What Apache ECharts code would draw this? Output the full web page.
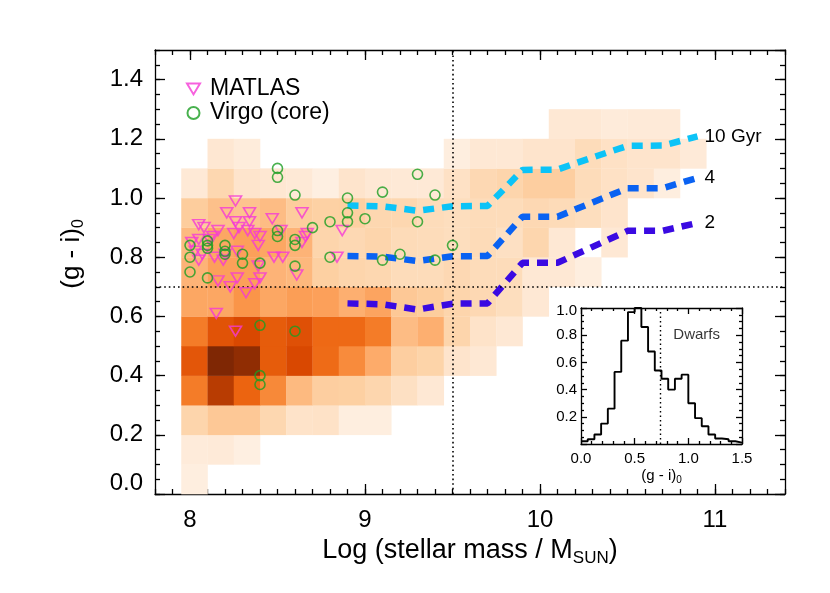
<!DOCTYPE html>
<html><head><meta charset="utf-8">
<script src="https://cdn.jsdelivr.net/npm/echarts@6/dist/echarts.min.js"></script>
<style>html,body{margin:0;padding:0;background:#fff}#c{width:830px;height:593px}</style>
</head><body><div id="c"></div>
<script>
// ---------- data ----------
const massTicks = [8, 9, 10, 11];

// 2D histogram of the parent sample: bins of 0.15 dex in mass (from 7.95) and 0.1 mag in colour (from 0.0)
const heatMassStart = 7.95;
const heatMassStep = 0.15;
const heatColorStep = 0.1;
// density level per bin, row j = colour bin, column k = mass bin (null = empty)
const heatLevels = [
  [1.2, null, null, null, null, null, null, null, null, null, null, null, null, null, null, null, null, null, null, null],
  [1.5, 1.6, 1.1, null, null, null, null, null, null, null, null, null, null, null, null, null, null, null, null, null],
  [3.6, 4.5, 4.5, 3.4, 2.3, 2.4, 1.2, 1.2, null, null, null, null, null, null, null, null, null, null, null, null],
  [8, 11, 9, 7.5, 5.3, 4.1, 4, 3.5, 2.6, 1.8, null, null, null, null, null, null, null, null, null, null],
  [9.5, 12, 11.7, 9.3, 10, 8.7, 7.4, 6, 4.1, 3.7, 2.2, 1.8, null, null, null, null, null, null, null, null],
  [8, 9.6, 10, 9.3, 9.7, 8.8, 8.8, 8, 5.2, 5.8, 3.6, 2.3, 1.8, null, null, null, null, null, null, null],
  [6.2, 6.2, 7, 6.2, 6.6, 6.5, 5.8, 6.3, 4.5, 4.2, 3.6, 3.3, 2.8, 1.8, null, null, null, null, null, null],
  [5.6, 6.5, 6.5, 5.6, 5.4, 4, 3.6, 3.4, 3, 3, 3.3, 3, 3, 1.8, 1.8, 1.2, null, null, null, null],
  [5.3, 6.2, 6.5, 6.2, 5.6, 3.6, 3.3, 3.6, 3.1, 3, 2.8, 3.1, 2.6, 3.5, 1.8, null, 1.8, null, null, null],
  [4.2, 5, 4.8, 5.2, 4.2, 3.9, 4, 3.4, 3.4, 3, 2.8, 3, 3, 3.3, 3.1, 2.8, 2.2, null, null, null],
  [1.7, 3.4, 2.2, 1.9, 1.7, 1.1, 2.2, 1.8, 1.7, 1.7, 2.5, 3.3, 3.6, 4.1, 4.1, 3, 2.5, 2.2, 1.2, null],
  [null, 1.9, 1.4, null, null, null, null, null, null, null, 1.2, 1.8, 1.8, 2.2, 2.2, 3, 2.5, 2.2, 2.2, 1.6],
  [null, null, null, null, null, null, null, null, null, null, null, null, null, null, 1.8, 1.8, 1.5, 1.6, 1.6, null]
];
const heatColors = ['#fef0e3', '#fee6d0', '#fddcba', '#fdd0a2', '#fdc08a', '#fdab6a',
                    '#fa9549', '#f47c28', '#ec6410', '#d94801', '#b83c02', '#7f2704'];

// MATLAS dwarfs
const matlasMass = [8.26, 8.21, 8.34, 8.47, 8.26, 8.34, 8.05, 8.08, 8.16, 8.28, 8.33, 8.25, 8.37, 8.40, 8.52,
  8.05, 8.13, 8.01, 8.39, 8.11, 8.27, 8.03, 8.07, 8.20, 8.05, 8.14, 8.19, 8.48, 8.53, 8.39, 8.40, 8.16, 8.27,
  8.23, 8.37, 8.32, 8.15, 8.26, 8.64, 8.87, 8.67, 8.66, 8.64, 8.84, 8.61];
const matlasColor = [0.99, 0.95, 0.95, 0.93, 0.92, 0.92, 0.91, 0.90, 0.89, 0.90, 0.89, 0.88, 0.88, 0.87, 0.89,
  0.86, 0.87, 0.85, 0.84, 0.86, 0.82, 0.82, 0.81, 0.81, 0.79, 0.80, 0.79, 0.80, 0.80, 0.77, 0.73, 0.72, 0.73,
  0.70, 0.71, 0.68, 0.61, 0.55, 0.95, 0.89, 0.88, 0.87, 0.85, 0.80, 0.74];

// Virgo core dwarfs
const virgoMass = [8.5, 8.5, 8.6, 8.9, 8.9, 8.9, 8.8, 9.0, 9.1, 9.3, 9.4, 9.3, 8.7, 8.5, 8.5, 8.6, 8.6, 8.6,
  8.8, 9.1, 9.2, 9.4, 9.5, 8.0, 8.0, 8.0, 8.1, 8.1, 8.1, 8.1, 8.2, 8.2, 8.2, 8.3, 8.3, 8.4, 8.4, 8.6, 8.4, 8.4];
const virgoColor = [1.10, 1.07, 1.01, 1.00, 0.95, 0.92, 0.92, 0.93, 1.02, 1.08, 1.01, 0.92, 0.90, 0.89, 0.87,
  0.86, 0.84, 0.77, 0.80, 0.79, 0.81, 0.79, 0.84, 0.84, 0.80, 0.75, 0.73, 0.855, 0.84, 0.83, 0.84, 0.82, 0.81,
  0.81, 0.78, 0.78, 0.57, 0.55, 0.40, 0.37];

// model tracks (age)
const ageMass = [8.9, 9.1, 9.3, 9.5, 9.7, 9.9, 10.1, 10.3, 10.5, 10.7, 10.9];
const age10 = [0.975, 0.972, 0.957, 0.972, 0.973, 1.095, 1.096, 1.137, 1.176, 1.177, 1.208];
const age4 = [0.804, 0.802, 0.787, 0.803, 0.804, 0.937, 0.937, 0.985, 1.033, 1.033, 1.068];
const age2 = [0.644, 0.641, 0.623, 0.643, 0.644, 0.781, 0.781, 0.835, 0.889, 0.889, 0.916];

// reference cuts
const massCut = 9.5;
const colorCut = 0.7;
const insetCut = 0.74;

// inset histogram of dwarf colours
const histBinWidth = 0.0625;
const histValues = [0.02, 0.035, 0.07, 0.15, 0.26, 0.53, 0.76, 0.97, 1.0, 0.86, 0.68, 0.54,
  0.48, 0.40, 0.48, 0.51, 0.30, 0.19, 0.13, 0.07, 0.04, 0.035, 0.02, 0.01];

// ---------- build ----------
const FONT = 'Liberation Sans';
const heatData = [];
heatLevels.forEach((row, j) => row.forEach((v, k) => {
  if (v != null) heatData.push([heatMassStart + k * heatMassStep, j * heatColorStep, v]);
}));
const zip = (a, b) => a.map((v, i) => [v, b[i]]);
const histData = histValues.map((v, i) => [i * histBinWidth, v]);
histData.push([histValues.length * histBinWidth, histValues[histValues.length - 1]]);

const black = {color: '#000', width: 1.3};
function mainX(pos, labels, minor) {
  return {
    type: 'value', gridIndex: 0, position: pos, min: 7.8, max: 11.4,
    interval: minor ? 0.1 : undefined,
    axisLine: {show: !minor, onZero: false, lineStyle: black},
    axisTick: minor ? {show: true, inside: true, length: 5, lineStyle: black}
                    : {show: true, inside: true, length: 10, customValues: massTicks, lineStyle: black},
    axisLabel: labels ? {show: true, customValues: massTicks, fontSize: 24, color: '#000', margin: 14, fontFamily: FONT}
                      : {show: false},
    splitLine: {show: false}
  };
}
function mainY(pos, labels, minor) {
  return {
    type: 'value', gridIndex: 0, position: pos, min: 0, max: 1.5,
    interval: minor ? 0.05 : 0.2,
    axisLine: {show: !minor, onZero: false, lineStyle: black},
    axisTick: {show: true, inside: true, length: minor ? 5 : 10, lineStyle: black},
    axisLabel: labels ? {
      show: true, fontSize: 24, color: '#000', margin: 12, fontFamily: FONT, showMaxLabel: false,
      formatter: v => v === 0 ? '{z|0.0}' : v.toFixed(1),
      rich: {z: {fontSize: 24, fontFamily: FONT, color: '#000', padding: [0, 0, 22, 0]}}
    } : {show: false},
    splitLine: {show: false}
  };
}
function insetX(pos, labels) {
  return {
    type: 'value', gridIndex: 1, position: pos, min: 0, max: 1.5, interval: 0.5,
    axisLine: {show: true, onZero: false, lineStyle: black},
    axisTick: {show: true, inside: true, length: 6, lineStyle: black},
    minorTick: {show: true, splitNumber: 5, length: 3, lineStyle: black},
    axisLabel: labels ? {show: true, fontSize: 15, color: '#000', margin: 7, fontFamily: FONT,
      formatter: v => v.toFixed(1)} : {show: false},
    splitLine: {show: false}, minorSplitLine: {show: false}
  };
}
function insetY(pos, labels) {
  return {
    type: 'value', gridIndex: 1, position: pos, min: 0, max: 1.0, interval: 0.2,
    axisLine: {show: true, onZero: false, lineStyle: black},
    axisTick: {show: true, inside: true, length: 6, lineStyle: black},
    minorTick: {show: true, splitNumber: 4, length: 3, lineStyle: black},
    axisLabel: labels ? {show: true, fontSize: 15, color: '#000', margin: 4, fontFamily: FONT, showMinLabel: false,
      formatter: v => v === 1 ? '{t|1.0}' : v.toFixed(1),
      rich: {t: {fontSize: 15, fontFamily: FONT, color: '#000', padding: [5, 0, 0, 0]}}} : {show: false},
    splitLine: {show: false}, minorSplitLine: {show: false}
  };
}

const xAxes = [mainX('bottom', true, false), mainX('top', false, false), mainX('bottom', false, true), mainX('top', false, true),
  insetX('bottom', true), insetX('top', false)];
xAxes[0].name = 'Log (stellar mass / M{sub|SUN})';
xAxes[0].nameLocation = 'middle';
xAxes[0].nameGap = 40;
xAxes[0].nameTextStyle = {fontSize: 27, color: '#000', fontFamily: FONT,
  rich: {sub: {fontSize: 17, fontFamily: FONT, color: '#000', padding: [15, 0, 0, 0]}}};
xAxes[4].name = '(g - i){sub|0}';
xAxes[4].nameLocation = 'middle';
xAxes[4].nameGap = 22;
xAxes[4].nameTextStyle = {fontSize: 15, color: '#000', fontFamily: FONT,
  rich: {sub: {fontSize: 10, fontFamily: FONT, color: '#000', padding: [9, 0, 0, 0]}}};

const yAxes = [mainY('left', true, false), mainY('right', false, false), mainY('left', false, true), mainY('right', false, true),
  insetY('left', true), insetY('right', false)];
yAxes[0].name = '(g - i){sub|0}';
yAxes[0].nameLocation = 'middle';
yAxes[0].nameGap = 68;
yAxes[0].nameTextStyle = {fontSize: 26, color: '#000', fontFamily: FONT, padding: [0, 0, 0, 36],
  rich: {sub: {fontSize: 16, fontFamily: FONT, color: '#000', padding: [15, 0, 0, 0]}}};

function ageSeries(name, values, color) {
  return {
    type: 'line', name, xAxisIndex: 0, yAxisIndex: 0, data: zip(ageMass, values),
    symbol: 'none', z: 3, silent: true,
    lineStyle: {color, width: 6.5, type: [11, 8], cap: 'butt'},
    endLabel: {show: true, formatter: '{a}', fontSize: 19, color: '#000', fontFamily: FONT, distance: 7}
  };
}

const dotted = {color: '#000', width: 1.6, type: [1.6, 3]};
const option = {
  animation: false,
  backgroundColor: '#fff',
  grid: [
    {left: 155, top: 50, right: 45, bottom: 99, containLabel: false},
    {left: 581, top: 308, width: 161, height: 136, containLabel: false}
  ],
  xAxis: xAxes,
  yAxis: yAxes,
  visualMap: {type: 'continuous', show: false, seriesIndex: 0, dimension: 2, min: 1, max: 12,
    inRange: {color: heatColors}},
  legend: {
    data: [{name: 'MATLAS', icon: 'path://M0,0L12,0L6,10Z'}, {name: 'Virgo (core)', icon: 'circle'}],
    orient: 'vertical', left: 186, top: 77, padding: 0,
    itemWidth: 13, itemHeight: 12, itemGap: 0,
    textStyle: {fontSize: 23, color: '#000', fontFamily: FONT, lineHeight: 24, padding: [0, 0, 0, 5]}
  },
  series: [
    {
      type: 'custom', name: 'parent', xAxisIndex: 0, yAxisIndex: 0, data: heatData, z: 1, silent: true,
      encode: {x: 0, y: 1},
      renderItem: (params, api) => {
        const x0 = api.value(0), y0 = api.value(1);
        const p1 = api.coord([x0, y0 + heatColorStep]);
        const p2 = api.coord([x0 + heatMassStep, y0]);
        return {type: 'rect', shape: {x: p1[0], y: p1[1], width: p2[0] - p1[0] + 0.3, height: p2[1] - p1[1] + 0.3},
          style: {fill: api.visual('color')}};
      }
    },
    ageSeries('10 Gyr', age10, '#0cc3f7'),
    ageSeries('4', age4, '#0a62f2'),
    ageSeries('2', age2, '#3a0ae2'),
    {
      type: 'scatter', name: 'cuts', xAxisIndex: 0, yAxisIndex: 0, data: [], z: 3, silent: true,
      markLine: {silent: true, symbol: ['none', 'none'], label: {show: false}, lineStyle: dotted,
        data: [{xAxis: massCut}, {yAxis: colorCut}]}
    },
    {
      type: 'scatter', name: 'MATLAS', xAxisIndex: 0, yAxisIndex: 0, data: zip(matlasMass, matlasColor), z: 5,
      symbol: 'triangle', symbolRotate: 180, symbolSize: [12, 10],
      itemStyle: {color: 'rgba(0,0,0,0)', borderColor: '#f53ad6', borderWidth: 1.6}
    },
    {
      type: 'scatter', name: 'Virgo (core)', xAxisIndex: 0, yAxisIndex: 0, data: zip(virgoMass, virgoColor), z: 5,
      symbol: 'circle', symbolSize: 10,
      itemStyle: {color: 'rgba(0,0,0,0)', borderColor: '#1a9e22', borderWidth: 1.6}
    },
    {
      type: 'line', name: 'hist', xAxisIndex: 4, yAxisIndex: 4, data: histData, step: 'end', symbol: 'none',
      silent: true, z: 6, lineStyle: {color: '#000', width: 1.9},
      markLine: {silent: true, symbol: ['none', 'none'], label: {show: false},
        lineStyle: {color: '#000', width: 1.4, type: [1.5, 3]}, data: [{xAxis: insetCut}]}
    },
    {
      type: 'scatter', name: 'note', xAxisIndex: 4, yAxisIndex: 4, data: [[0.86, 0.80]], symbolSize: 0, silent: true, z: 6,
      label: {show: true, formatter: 'Dwarfs', position: [0, 0], align: 'left', verticalAlign: 'middle',
        fontSize: 15, color: '#000', fontFamily: FONT}
    }
  ]
};
const chart = echarts.init(document.getElementById('c'), null, {renderer: 'canvas'});
chart.setOption(option);
</script>
</body></html>
